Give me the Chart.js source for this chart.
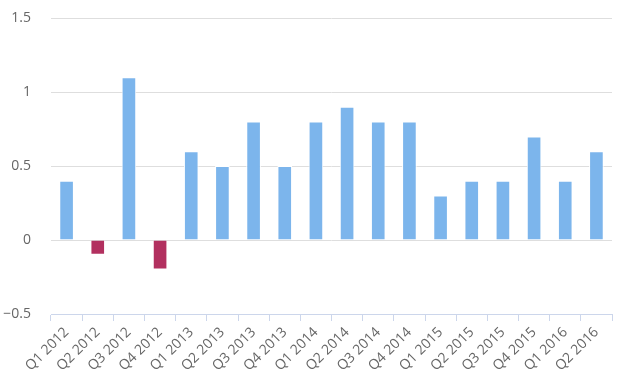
<!DOCTYPE html>
<html><head><meta charset="utf-8">
<script src="https://cdn.jsdelivr.net/npm/chart.js@4"></script>
<style>html,body{margin:0;padding:0;background:#fff}#wrap{width:619px;height:379px}</style>
</head><body><div id="wrap"><canvas id="c" width="619" height="379"></canvas></div>
<script>
const categories = ["Q1 2012","Q2 2012","Q3 2012","Q4 2012","Q1 2013","Q2 2013","Q3 2013","Q4 2013","Q1 2014","Q2 2014","Q3 2014","Q4 2014","Q1 2015","Q2 2015","Q3 2015","Q4 2015","Q1 2016","Q2 2016"];
const values = [0.4,-0.1,1.1,-0.2,0.6,0.5,0.8,0.5,0.8,0.9,0.8,0.8,0.3,0.4,0.4,0.7,0.4,0.6];
const yTicks = [-0.5,0,0.5,1,1.5];
const posColor = "#7cb5ec", negColor = "#b2305f";
new Chart(document.getElementById('c'), {
  type: 'bar',
  data: { labels: categories, datasets: [{
    data: values,
    backgroundColor: values.map(v => v < 0 ? negColor : posColor),
    borderColor: '#ffffff', borderWidth: 1,
    barPercentage: 0.47, categoryPercentage: 1
  }]},
  options: {
    responsive: false, animation: false,
    layout: { padding: { left: 0, right: 7, top: 18, bottom: 0 } },
    plugins: { legend: { display: false }, tooltip: { enabled: false } },
    scales: {
      y: {
        min: -0.5, max: 1.5,
        afterBuildTicks: s => { s.ticks = yTicks.map(v => ({ value: v })); },
        afterFit: s => { s.width = 51; },
        ticks: { color: '#666666', font: { family: 'Open Sans', size: 14 }, padding: 0,
          callback: v => String(v).replace('-', '\u2212') },
        grid: { color: '#dedede', drawTicks: true, tickLength: 20, tickColor: 'rgba(0,0,0,0)' },
        border: { display: false }
      },
      x: {
        afterFit: s => { s.height = 65; },
        ticks: { color: '#666666', font: { family: 'Open Sans', size: 14 }, minRotation: 45, maxRotation: 45, padding: 3, autoSkip: false },
        grid: { drawOnChartArea: false, color: '#ccd6eb', tickLength: 7, offset: true },
        border: { color: '#ccd6eb' }
      }
    }
  }
});
</script></body></html>
